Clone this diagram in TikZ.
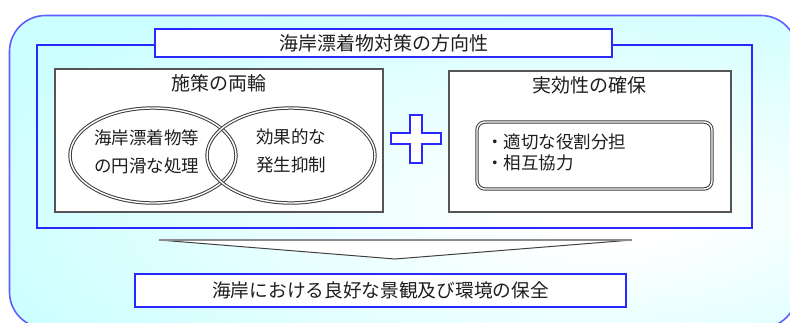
\documentclass[tikz,border=0pt]{standalone}
\usepackage{fontspec}
\newfontfamily\jp{Noto Sans CJK JP}
\usetikzlibrary{shapes.geometric}
\definecolor{bgcyan}{RGB}{204,255,255}
\definecolor{outerblue}{RGB}{95,95,255}
\definecolor{frameblue}{RGB}{40,40,255}
\definecolor{boxgray}{RGB}{85,85,85}
\definecolor{ringgray}{RGB}{60,60,60}
\definecolor{txt}{RGB}{30,30,30}
\pgfdeclareradialshading{bgshade}{\pgfpoint{14bp}{-8bp}}{color(0bp)=(white); color(4bp)=(white); color(38bp)=(bgcyan); color(100bp)=(bgcyan)}
\begin{document}
\begin{tikzpicture}[x=1pt,y=-1pt,
  every node/.style={inner sep=0pt, outer sep=0pt, text=txt},
  framebox/.style={draw=frameblue, line width=1.2pt, rectangle},
  titlebox/.style={draw=frameblue, line width=1.2pt, fill=white, rectangle, font=\jp\fontsize{19}{23}\selectfont},
  graybox/.style={draw=boxgray, line width=1.4pt, fill=white, rectangle},
  hdr/.style={font=\jp\fontsize{19}{23}\selectfont},
  ring/.style={ellipse, draw=ringgray, double=white, double distance=1.4pt, line width=1pt},
  dbox/.style={rectangle, draw=ringgray, double=white, double distance=1.4pt, line width=1pt, fill=white},
  eltext/.style={font=\jp\fontsize{17.5}{28}\selectfont, align=center},
  roletext/.style={font=\jp\fontsize{17.5}{21}\selectfont, align=left},
  plusmark/.style={draw=frameblue, line width=1.2pt, fill=white, line join=miter},
]
\useasboundingbox (0,0) rectangle (790,322);
\clip (0,0) rectangle (790,322);
% background
\shade[shading=bgshade, draw=outerblue, line width=1.6pt, rounded corners=36pt] (9.5,15.5) rectangle (797,328);
% blue frame
\node[framebox, minimum width=715pt, minimum height=183pt] (dir) at (394.5,136.5) {};
\node[titlebox, minimum width=457pt, minimum height=28pt] (title) at (383.5,43) {海岸漂着物対策の方向性};
% left box
\node[graybox, minimum width=328pt, minimum height=143pt] (wheels) at (219,140.5) {};
\node[hdr] (wheelsT) at (219,83.5) {施策の両輪};
\node[ring, minimum width=166pt, minimum height=95pt] (ringL) at (153,155.5) {};
\node[ring, minimum width=168pt, minimum height=95pt] (ringR) at (291,155.5) {};
\node[eltext] (txtL) at (146.5,151.5) {海岸漂着物等\\の円滑な処理};
\node[eltext] (txtR) at (291,151) {効果的な\\発生抑制};
% plus
\draw[plusmark] (410,115) -- (422,115) -- (422,133) -- (441,133) -- (441,144) -- (422,144) -- (422,163) -- (410,163) -- (410,144) -- (391,144) -- (391,133) -- (410,133) -- cycle;
% right box
\node[graybox, minimum width=282pt, minimum height=141pt] (secure) at (590,141.5) {};
\node[hdr] (secureT) at (589.5,85.5) {実効性の確保};
\node[dbox, rounded corners=8pt, minimum width=235pt, minimum height=67pt] (roles) at (594.5,155.5) {};
\node[roletext, anchor=west] (rolesT) at (486,152.5) {・適切な役割分担\\・相互協力};
% wedge
\fill[white] (159,240) -- (632,240) -- (395,259) -- cycle;
\draw[black!75, line width=1pt] (159,240) -- (395,259) -- (632,240);
\draw[black!45, line width=2pt] (159,240) -- (632,240);
% goal
\node[titlebox, minimum width=491pt, minimum height=33pt, font=\jp\fontsize{18.7}{23}\selectfont] (goal) at (380.5,290.5) {海岸における良好な景観及び環境の保全};
\end{tikzpicture}
\end{document}
